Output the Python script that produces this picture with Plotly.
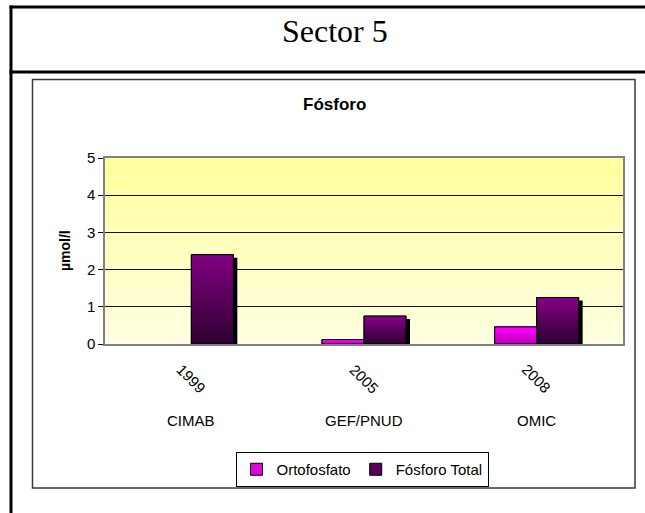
import plotly.graph_objects as go

# ---- data ----
sources = ["CIMAB", "GEF/PNUD", "OMIC"]
years = ["1999", "2005", "2008"]
ortofosfato = [0, 0.12, 0.46]
fosforo_total = [2.4, 0.75, 1.25]
series_names = ["Ortofosfato", "Fósforo Total"]
y_tick_vals = [0, 1, 2, 3, 4, 5]

# ---- geometry (pixels) ----
FW, FH = 645, 513
L, R, T, B = 105, 623, 158, 344
PW, PH = R - L, B - T


def px(xp):
    return (xp - L) / PW


def py(yp):
    return (B - yp) / PH


cat_w = PW / len(sources)
bar_w = 42 / cat_w
dx = 4 / cat_w
dy = 3 / (PH / 5)

FONT = "Liberation Sans, Arial, sans-serif"


def hex2rgb(h):
    h = h.lstrip("#")
    return [int(h[i:i + 2], 16) for i in (0, 2, 4)]


def mix(c0, c1, t):
    a, b = hex2rgb(c0), hex2rgb(c1)
    return "rgb(%d,%d,%d)" % tuple(round(a[i] + (b[i] - a[i]) * t) for i in range(3))


series = [
    dict(name=series_names[0], vals=ortofosfato, off=-bar_w, top="#FF00FF", bottom="#B400B4", mid="#E000E0"),
    dict(name=series_names[1], vals=fosforo_total, off=0.0, top="#840084", bottom="#2C0030", mid="#5A005C"),
]

fig = go.Figure()

# shadows
for s in series:
    fig.add_trace(go.Bar(x=sources, y=s["vals"], base=-dy, offset=s["off"] + dx, width=bar_w,
                         marker=dict(color="black", line=dict(width=0)),
                         showlegend=False, hoverinfo="skip"))
# solid base bars (legend entries); empty (zero) bars are not drawn
for s in series:
    shown = [v if v > 0 else None for v in s["vals"]]
    fig.add_trace(go.Bar(x=sources, y=shown, offset=s["off"], width=bar_w, name=s["name"],
                         marker=dict(color=s["mid"], line=dict(color="black", width=1))))
# vertical gradient slices
K = 24
for s in series:
    for k in range(K):
        t = (k + 0.5) / K
        fig.add_trace(go.Bar(x=sources, y=[v / K for v in s["vals"]],
                             base=[v * k / K for v in s["vals"]],
                             offset=s["off"], width=bar_w,
                             marker=dict(color=mix(s["bottom"], s["top"], t), line=dict(width=0)),
                             showlegend=False, hoverinfo="skip"))
# outlines
for s in series:
    shown = [v if v > 0 else None for v in s["vals"]]
    fig.add_trace(go.Bar(x=sources, y=shown, offset=s["off"], width=bar_w,
                         marker=dict(color="rgba(0,0,0,0)", line=dict(color="black", width=1)),
                         showlegend=False, hoverinfo="skip"))

shapes = []
# plot background gradient
N = 40
for i in range(N):
    shapes.append(dict(type="rect", xref="x domain", yref="y domain", x0=0, x1=1,
                       y0=i / N, y1=(i + 1) / N, layer="below", line=dict(width=0),
                       fillcolor=mix("#FFFFE2", "#FFFF99", (i + 0.5) / N)))
# page frame lines
shapes += [
    dict(type="line", xref="paper", yref="paper", x0=px(9.5), x1=px(660), y0=py(7), y1=py(7),
         line=dict(color="black", width=3)),
    dict(type="line", xref="paper", yref="paper", x0=px(9.5), x1=px(660), y0=py(72), y1=py(72),
         line=dict(color="black", width=3)),
    dict(type="line", xref="paper", yref="paper", x0=px(11), x1=px(11), y0=py(5.5), y1=py(530),
         line=dict(color="black", width=3)),
    dict(type="rect", xref="paper", yref="paper", x0=px(32.5), x1=px(635), y0=py(79.5), y1=py(488),
         line=dict(color="#3a3a3a", width=1.5)),
]

annotations = [
    dict(text="Sector 5", x=px(334.5), y=py(31), xref="paper", yref="paper", showarrow=False,
         xanchor="center", yanchor="middle",
         font=dict(family="Liberation Serif, Times New Roman, serif", size=32, color="black")),
    dict(text="<b>Fósforo</b>", x=px(334), y=py(104), xref="paper", yref="paper", showarrow=False,
         xanchor="center", yanchor="middle", font=dict(family=FONT, size=17, color="black")),
    dict(text="<b>µmol/l</b>", x=px(65), y=0.5, xref="paper", yref="paper", showarrow=False,
         textangle=-90, xanchor="center", yanchor="middle", font=dict(family=FONT, size=14, color="black")),
]
for src, yr in zip(sources, years):
    annotations.append(dict(text=yr, x=src, xref="x", y=py(378), yref="paper", showarrow=False,
                            textangle=45, xanchor="center", yanchor="middle",
                            font=dict(family=FONT, size=15, color="black")))
    annotations.append(dict(text=src, x=src, xref="x", y=py(420), yref="paper", showarrow=False,
                            xanchor="center", yanchor="middle",
                            font=dict(family=FONT, size=15, color="black")))

fig.update_layout(
    width=FW, height=FH,
    margin=dict(l=L, r=FW - R, t=T, b=FH - B, pad=0),
    paper_bgcolor="white", plot_bgcolor="white",
    barmode="overlay",
    font=dict(family=FONT, size=15, color="black"),
    shapes=shapes,
    annotations=annotations,
    showlegend=True,
    legend=dict(orientation="h", x=px(362), xanchor="center", y=py(452), yanchor="top",
                bgcolor="white", bordercolor="black", borderwidth=1,
                font=dict(family=FONT, size=15, color="black"), itemwidth=30,
                traceorder="normal"),
)
fig.update_xaxes(type="category", categoryorder="array", categoryarray=sources,
                 range=[-0.5, len(sources) - 0.5], showticklabels=False, ticks="",
                 showgrid=False, zeroline=False, showline=True, linecolor="#808080",
                 linewidth=1.5, mirror=True)
fig.update_yaxes(range=[0, 5], tickvals=y_tick_vals, showgrid=True, gridcolor="#111111", gridwidth=1,
                 zeroline=False, ticks="outside", ticklen=5, tickcolor="black", tickwidth=1,
                 showline=True, linecolor="#808080", linewidth=1.5, mirror=True,
                 tickfont=dict(family=FONT, size=15, color="black"))

fig.write_html("out.html", config={"displayModeBar": False},
               post_script="document.body.style.margin='0px';")
